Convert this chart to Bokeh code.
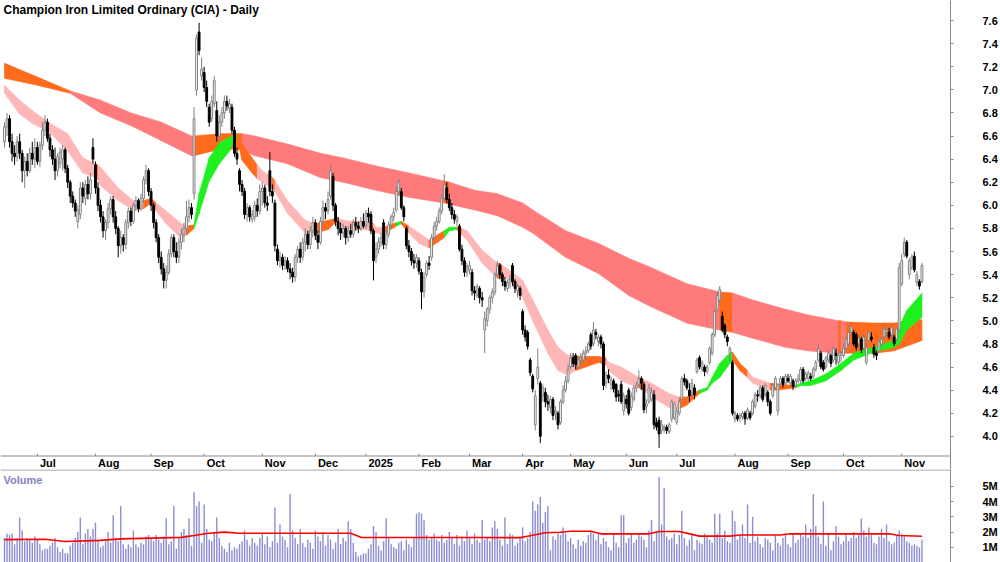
from bokeh.plotting import figure
from bokeh.models import Range1d, FixedTicker, PrintfTickFormatter, Label, ColumnDataSource, Span
from bokeh.core.properties import value
from bokeh.layouts import column
from bokeh.embed import file_html
from bokeh.resources import INLINE

# ---------------- data ----------------
title_text = "Champion Iron Limited Ordinary (CIA) - Daily"
month_idx = [13, 36, 58, 79, 102, 123, 143, 164, 184, 205, 224, 246, 266, 289, 310, 332, 355]
month_lbl = ["Jul", "Aug", "Sep", "Oct", "Nov", "Dec", "2025", "Feb", "Mar", "Apr", "May", "Jun",
             "Jul", "Aug", "Sep", "Oct", "Nov"]
price_ticks = [4.0, 4.2, 4.4, 4.6, 4.8, 5.0, 5.2, 5.4, 5.6, 5.8, 6.0, 6.2, 6.4, 6.6, 6.8, 7.0, 7.2, 7.4, 7.6]
vol_ticks = [1, 2, 3, 4, 5]

opens = [
    6.55,6.68,6.75,6.55,6.45,6.42,6.55,6.45,6.30,6.38,
    6.30,6.45,6.40,6.50,6.38,6.52,6.65,6.72,6.58,6.48,
    6.40,6.30,6.36,6.40,6.48,6.32,6.20,6.08,6.02,5.86,
    5.92,6.15,6.06,6.18,6.10,6.50,6.35,6.15,6.00,5.90,
    5.78,5.85,5.97,6.05,5.90,5.80,5.65,5.72,5.66,5.85,
    5.95,5.86,6.00,6.04,5.97,6.06,6.22,6.30,6.12,6.00,
    5.85,5.72,5.55,5.45,5.35,5.42,5.58,5.72,5.60,5.55,
    5.68,5.75,5.80,5.90,5.98,6.10,7.00,7.50,7.12,7.15,
    7.02,6.85,6.75,6.88,6.82,6.60,6.72,6.80,6.90,6.84,
    6.85,6.65,6.45,6.30,6.18,6.12,5.92,5.98,5.88,5.90,
    6.00,5.95,6.12,6.15,6.02,6.30,6.12,6.02,5.62,5.52,
    5.55,5.48,5.52,5.45,5.42,5.38,5.55,5.62,5.55,5.68,
    5.75,5.66,5.78,5.85,5.74,5.68,5.86,5.98,5.95,6.08,
    6.25,6.00,5.86,5.80,5.76,5.80,5.72,5.78,5.75,5.85,
    5.82,5.80,5.86,5.82,5.93,5.92,5.78,5.55,5.62,5.68,
    5.85,5.66,5.75,5.83,5.90,5.96,6.12,6.12,5.98,5.80,
    5.65,5.60,5.52,5.50,5.52,5.42,5.25,5.40,5.50,5.55,
    5.72,5.82,5.86,5.95,6.06,6.15,6.05,5.98,5.92,5.86,
    5.82,5.62,5.52,5.42,5.44,5.42,5.26,5.22,5.28,5.20,
    4.92,5.00,5.10,5.20,5.25,5.40,5.48,5.40,5.34,5.28,
    5.33,5.48,5.34,5.26,5.28,5.08,4.92,4.90,4.66,4.52,
    4.10,4.50,4.46,4.35,4.38,4.30,4.25,4.32,4.20,4.20,
    4.12,4.30,4.40,4.48,4.60,4.68,4.70,4.60,4.66,4.66,
    4.72,4.74,4.88,4.80,4.90,4.82,4.86,4.80,4.46,4.53,
    4.45,4.48,4.45,4.36,4.45,4.22,4.32,4.40,4.25,4.32,
    4.42,4.45,4.50,4.45,4.26,4.30,4.32,4.36,4.12,4.14,
    4.05,4.06,4.08,4.04,4.15,4.16,4.12,4.20,4.32,4.50,
    4.48,4.40,4.38,4.42,4.56,4.68,4.58,4.60,4.56,4.64,
    4.72,4.88,5.10,5.18,5.04,4.96,4.86,4.72,4.64,4.15,
    4.18,4.16,4.17,4.20,4.16,4.20,4.20,4.26,4.36,4.35,
    4.42,4.36,4.38,4.30,4.35,4.42,4.22,4.46,4.50,4.46,
    4.50,4.46,4.48,4.44,4.48,4.48,4.58,4.50,4.50,4.52,
    4.52,4.58,4.66,4.72,4.64,4.60,4.66,4.70,4.66,4.72,
    4.64,4.70,4.70,4.76,4.80,4.90,4.90,4.88,4.80,4.84,
    4.76,4.64,4.83,4.86,4.77,4.72,4.74,4.80,4.86,4.90,
    4.90,4.88,4.86,4.84,4.92,5.32,5.58,5.68,5.40,5.46,
    5.56,5.33,5.34,5.34]

highs = [
    6.72,6.80,6.78,6.62,6.52,6.60,6.62,6.48,6.42,6.45,
    6.50,6.55,6.58,6.55,6.55,6.72,6.78,6.75,6.62,6.52,
    6.50,6.45,6.50,6.52,6.50,6.35,6.22,6.12,6.05,6.00,
    6.20,6.20,6.22,6.25,6.28,6.58,6.38,6.20,6.05,5.95,
    5.88,6.02,6.08,6.08,5.95,5.82,5.78,5.75,5.88,5.98,
    5.98,6.02,6.08,6.06,6.10,6.25,6.35,6.32,6.15,6.02,
    5.88,5.75,5.60,5.50,5.48,5.62,5.75,5.75,5.68,5.72,
    5.80,5.85,6.04,6.05,6.02,6.85,7.48,7.58,7.28,7.20,
    7.08,6.88,6.95,7.12,6.90,6.78,6.85,6.95,6.95,6.92,
    6.88,6.68,6.50,6.32,6.22,6.15,6.02,6.00,5.96,6.04,
    6.06,6.18,6.20,6.18,6.08,6.46,6.18,6.05,5.66,5.60,
    5.58,5.56,5.55,5.50,5.46,5.58,5.65,5.68,5.72,5.80,
    5.78,5.82,5.90,5.88,5.78,5.90,6.04,6.02,6.12,6.35,
    6.28,6.02,5.90,5.85,5.84,5.82,5.82,5.84,5.88,5.90,
    5.86,5.90,5.93,5.96,5.98,5.95,5.80,5.68,5.72,5.76,
    5.88,5.78,5.86,5.92,5.98,6.16,6.23,6.15,6.00,5.82,
    5.70,5.63,5.58,5.58,5.55,5.45,5.42,5.52,5.56,5.75,
    5.86,5.90,5.98,6.10,6.27,6.20,6.10,6.02,5.96,5.92,
    5.84,5.66,5.55,5.50,5.52,5.45,5.30,5.32,5.30,5.25,
    5.08,5.12,5.22,5.28,5.42,5.52,5.50,5.42,5.38,5.36,
    5.40,5.50,5.36,5.32,5.30,5.10,4.96,4.92,4.68,4.54,
    4.40,4.76,4.48,4.45,4.42,4.36,4.35,4.34,4.26,4.22,
    4.32,4.44,4.52,4.62,4.72,4.72,4.72,4.70,4.72,4.75,
    4.78,4.82,4.90,4.99,4.93,4.88,4.88,4.82,4.56,4.58,
    4.52,4.50,4.46,4.40,4.48,4.38,4.36,4.42,4.38,4.44,
    4.47,4.57,4.52,4.47,4.32,4.45,4.42,4.40,4.16,4.17,
    4.14,4.10,4.10,4.12,4.32,4.30,4.25,4.32,4.52,4.54,
    4.50,4.46,4.50,4.45,4.68,4.70,4.66,4.62,4.62,4.78,
    4.90,5.10,5.25,5.30,5.08,4.98,4.88,4.78,4.66,4.22,
    4.20,4.20,4.22,4.22,4.25,4.22,4.32,4.38,4.40,4.44,
    4.44,4.46,4.40,4.32,4.46,4.52,4.46,4.52,4.52,4.54,
    4.54,4.54,4.50,4.50,4.54,4.60,4.60,4.56,4.57,4.55,
    4.60,4.66,4.80,4.74,4.66,4.70,4.75,4.72,4.78,4.76,
    4.72,4.74,4.80,4.86,4.92,4.99,4.92,4.90,4.88,4.86,
    4.88,4.80,4.92,4.90,4.80,4.74,4.84,4.86,4.96,4.94,
    4.94,4.96,4.88,4.95,5.50,5.58,5.72,5.70,5.54,5.58,
    5.60,5.43,5.36,5.50]

lows = [
    6.50,6.60,6.50,6.38,6.35,6.38,6.40,6.20,6.15,6.25,
    6.28,6.35,6.32,6.35,6.33,6.48,6.60,6.55,6.42,6.35,
    6.22,6.25,6.32,6.30,6.28,6.15,6.02,5.98,5.90,5.80,
    5.88,6.02,6.00,6.05,6.05,6.36,6.10,5.95,5.85,5.72,
    5.70,5.80,5.92,5.85,5.75,5.55,5.58,5.60,5.62,5.80,
    5.82,5.84,5.95,5.94,5.95,6.02,6.18,6.08,5.95,5.80,
    5.68,5.50,5.40,5.28,5.28,5.40,5.55,5.55,5.50,5.50,
    5.62,5.68,5.75,5.85,5.88,6.05,6.95,7.30,7.08,6.98,
    6.85,6.68,6.72,6.85,6.55,6.55,6.68,6.75,6.82,6.80,
    6.62,6.42,6.35,6.12,6.08,5.88,5.86,5.86,5.85,5.86,
    5.90,5.92,6.00,5.98,5.95,6.08,6.02,5.60,5.48,5.46,
    5.44,5.44,5.42,5.36,5.33,5.34,5.50,5.50,5.52,5.60,
    5.62,5.62,5.72,5.70,5.62,5.66,5.84,5.88,5.92,6.05,
    5.95,5.82,5.74,5.70,5.72,5.66,5.68,5.72,5.72,5.78,
    5.76,5.78,5.80,5.80,5.85,5.75,5.35,5.50,5.58,5.64,
    5.62,5.62,5.72,5.80,5.86,5.94,6.08,5.96,5.86,5.62,
    5.55,5.48,5.45,5.46,5.40,5.10,5.20,5.38,5.44,5.52,
    5.70,5.78,5.84,5.92,6.04,6.02,5.95,5.88,5.84,5.82,
    5.60,5.48,5.38,5.38,5.40,5.22,5.18,5.20,5.15,5.12,
    4.72,4.95,5.06,5.15,5.22,5.38,5.36,5.30,5.26,5.25,
    5.28,5.30,5.24,5.20,5.18,4.88,4.82,4.75,4.52,4.38,
    4.05,4.45,3.94,4.30,4.25,4.22,4.20,4.14,4.14,4.06,
    4.10,4.28,4.38,4.46,4.58,4.60,4.58,4.58,4.62,4.64,
    4.66,4.72,4.75,4.78,4.84,4.78,4.76,4.40,4.42,4.46,
    4.40,4.38,4.30,4.30,4.28,4.18,4.24,4.18,4.22,4.30,
    4.38,4.43,4.40,4.20,4.20,4.28,4.30,4.06,4.05,3.90,
    4.02,4.03,4.02,4.02,4.12,4.14,4.10,4.18,4.30,4.44,
    4.40,4.30,4.36,4.32,4.54,4.58,4.56,4.52,4.54,4.62,
    4.70,4.86,5.08,5.15,4.90,4.85,4.78,4.65,4.18,4.12,
    4.13,4.12,4.14,4.10,4.14,4.14,4.18,4.24,4.30,4.33,
    4.30,4.34,4.26,4.18,4.33,4.40,4.18,4.44,4.42,4.44,
    4.46,4.44,4.40,4.42,4.46,4.46,4.46,4.48,4.48,4.48,
    4.50,4.56,4.64,4.58,4.56,4.58,4.64,4.60,4.64,4.62,
    4.62,4.64,4.68,4.74,4.78,4.88,4.78,4.74,4.78,4.72,
    4.74,4.62,4.82,4.82,4.68,4.66,4.72,4.78,4.84,4.86,
    4.84,4.86,4.78,4.82,4.90,5.30,5.55,5.54,5.36,5.44,
    5.42,5.30,5.27,5.32]

closes = [
    6.68,6.75,6.55,6.45,6.42,6.55,6.45,6.30,6.38,6.30,
    6.45,6.40,6.50,6.38,6.52,6.65,6.72,6.58,6.48,6.40,
    6.30,6.42,6.46,6.48,6.32,6.20,6.08,6.02,5.95,5.96,
    6.15,6.08,6.18,6.10,6.22,6.40,6.15,6.00,5.90,5.78,
    5.85,5.97,6.05,5.90,5.80,5.65,5.72,5.66,5.85,5.95,
    5.86,6.00,6.04,5.97,6.06,6.22,6.30,6.12,6.00,5.85,
    5.72,5.55,5.45,5.35,5.42,5.58,5.72,5.60,5.55,5.68,
    5.75,5.80,5.90,5.98,5.92,6.75,7.45,7.34,7.18,7.02,
    6.90,6.72,6.90,7.08,6.60,6.72,6.80,6.90,6.86,6.88,
    6.65,6.45,6.40,6.18,6.12,5.92,5.98,5.90,5.92,6.00,
    5.95,6.12,6.15,6.02,6.00,6.12,6.08,5.65,5.52,5.55,
    5.48,5.52,5.45,5.42,5.38,5.55,5.62,5.55,5.68,5.75,
    5.66,5.78,5.85,5.74,5.68,5.86,5.98,5.95,6.05,6.30,
    6.00,5.86,5.80,5.76,5.80,5.72,5.78,5.75,5.85,5.82,
    5.80,5.86,5.82,5.93,5.90,5.78,5.52,5.62,5.68,5.72,
    5.66,5.75,5.83,5.90,5.94,6.12,6.20,5.98,5.90,5.65,
    5.60,5.52,5.50,5.55,5.43,5.25,5.38,5.50,5.48,5.72,
    5.82,5.86,5.95,6.06,6.18,6.05,5.98,5.92,5.88,5.90,
    5.62,5.52,5.42,5.47,5.48,5.26,5.24,5.30,5.20,5.18,
    5.02,5.10,5.20,5.25,5.40,5.48,5.40,5.34,5.30,5.33,
    5.36,5.34,5.28,5.30,5.22,4.92,4.86,4.78,4.55,4.41,
    4.35,4.60,4.00,4.42,4.30,4.28,4.32,4.18,4.22,4.10,
    4.30,4.40,4.48,4.58,4.68,4.63,4.62,4.66,4.68,4.72,
    4.74,4.80,4.78,4.92,4.88,4.86,4.80,4.44,4.53,4.50,
    4.49,4.41,4.34,4.35,4.30,4.35,4.28,4.20,4.35,4.42,
    4.44,4.50,4.46,4.23,4.28,4.42,4.38,4.10,4.08,4.02,
    4.10,4.08,4.05,4.10,4.30,4.28,4.22,4.30,4.50,4.47,
    4.42,4.35,4.46,4.36,4.66,4.60,4.64,4.56,4.60,4.76,
    4.88,5.08,5.22,5.27,4.92,4.88,4.82,4.76,4.20,4.20,
    4.15,4.18,4.20,4.15,4.23,4.16,4.30,4.36,4.35,4.42,
    4.32,4.44,4.30,4.20,4.44,4.50,4.45,4.50,4.45,4.52,
    4.48,4.52,4.43,4.48,4.50,4.58,4.48,4.54,4.55,4.50,
    4.58,4.64,4.76,4.60,4.58,4.68,4.72,4.63,4.76,4.70,
    4.70,4.72,4.76,4.84,4.90,4.95,4.80,4.77,4.85,4.75,
    4.86,4.77,4.90,4.84,4.71,4.70,4.82,4.84,4.93,4.92,
    4.86,4.94,4.80,4.93,5.46,5.52,5.68,5.56,5.52,5.55,
    5.44,5.40,5.30,5.48]

volume_m = [
    1.6,1.9,1.8,1.9,1.2,1.6,2.95,2.1,1.4,1.6,1.5,1.3,1.7,1.5,1.2,0.8,0.9,0.9,1.1,1.3,
    1.6,1.0,0.7,0.9,0.6,0.6,1.1,1.3,1.6,2.0,2.95,1.2,1.9,2.2,1.7,2.2,2.6,1.5,1.0,1.1,
    1.4,2.0,1.3,3.1,1.6,1.4,3.7,1.2,0.9,1.2,1.0,2.1,1.2,1.0,1.3,1.2,1.7,1.8,1.6,1.4,
    1.8,1.5,1.3,1.7,2.9,1.2,1.4,3.7,0.9,1.6,2.0,2.2,1.8,2.9,1.1,4.6,3.7,4.0,1.3,3.8,
    2.2,1.5,1.4,2.0,2.95,1.6,1.1,0.9,0.7,1.3,0.8,1.0,0.9,1.2,1.4,2.1,1.5,1.1,1.6,1.3,
    1.1,1.6,1.9,1.2,1.7,1.0,1.4,3.6,1.3,2.5,1.7,1.5,1.0,4.5,2.1,1.6,1.2,2.2,1.3,1.0,
    1.5,1.3,0.9,2.1,1.7,1.4,2.0,1.1,1.8,1.5,0.9,1.3,2.2,1.2,1.6,1.4,2.7,2.2,1.3,0.7,
    0.4,0.5,0.6,0.6,0.9,1.2,2.4,2.0,1.1,0.8,1.4,2.9,1.6,1.2,1.0,0.9,1.3,1.4,0.8,1.5,
    1.2,1.0,1.6,3.2,3.3,3.2,2.8,1.8,1.5,1.6,1.9,1.5,1.4,1.8,1.3,1.5,2.0,1.6,1.2,1.8,
    1.1,1.7,1.4,2.1,1.6,1.2,1.9,1.5,1.3,2.8,1.5,1.6,1.4,2.3,2.7,2.2,1.5,1.1,2.95,1.2,
    1.9,1.8,1.1,1.3,1.6,2.3,1.4,1.6,2.0,4.0,3.4,3.8,4.3,2.6,3.3,3.7,0.8,1.7,1.5,1.9,
    1.8,2.3,1.9,1.4,1.6,1.2,0.9,1.5,1.1,1.4,1.3,1.8,2.1,1.9,1.5,1.9,1.2,1.6,1.4,1.0,
    0.8,1.9,1.3,1.0,3.1,3.1,1.3,1.6,1.9,1.3,1.5,1.9,1.7,1.5,1.0,2.1,2.8,1.4,2.0,5.6,
    2.5,4.9,1.7,1.5,1.6,1.9,1.2,1.8,3.4,1.6,1.1,1.5,1.9,0.8,1.5,1.3,1.2,1.9,1.7,1.5,
    1.3,3.2,1.9,3.2,1.6,2.1,1.4,1.3,3.4,2.7,1.5,1.8,2.5,1.6,3.8,1.3,3.0,1.4,1.7,1.2,
    1.0,1.6,1.5,1.3,0.8,1.8,1.3,1.1,1.6,1.9,1.2,1.0,1.9,1.3,1.5,1.9,1.7,2.5,1.6,2.2,
    4.5,2.4,1.7,1.2,4.0,1.1,1.9,0.8,1.4,2.4,1.7,1.2,1.4,1.9,1.4,1.6,2.0,1.6,1.8,2.9,
    2.1,1.7,2.3,1.8,1.3,1.2,1.7,2.2,1.6,2.5,1.4,1.2,1.3,1.8,2.1,1.9,1.7,1.4,1.3,1.1,
    1.2,1.1,1.0,1.5]

vma_idx = [0, 16, 24, 38, 46, 58, 70, 75, 80, 87, 93, 137, 141, 145, 184, 204, 208, 214, 220, 224,
           232, 236, 255, 259, 267, 275, 287, 291, 307, 311, 350, 354, 363]
vma_val = [1.50, 1.52, 1.38, 1.45, 1.55, 1.60, 1.65, 1.77, 1.90, 1.99, 1.92, 1.92, 1.65, 1.64, 1.64,
           1.63, 1.75, 1.95, 1.98, 2.05, 2.05, 1.88, 1.88, 2.03, 2.03, 1.73, 1.73, 1.80, 1.80, 1.88,
           1.88, 1.77, 1.72]

# long-term ribbon (outer edges); colour code per segment starting at that point
long_idx = [0, 13, 26, 38, 50, 62, 74, 75, 86, 94, 99, 112, 125, 134, 147, 160, 174, 176, 186, 195,
            205, 209, 222, 235, 247, 256, 270, 283, 288, 296, 309, 318, 330, 331, 333, 344, 352, 363]
long_top = [7.23, 7.11, 6.99, 6.91, 6.80, 6.72, 6.60, 6.60, 6.62, 6.62, 6.60, 6.53, 6.45, 6.41, 6.34,
            6.28, 6.21, 6.20, 6.13, 6.10, 6.02, 5.96, 5.78, 5.67, 5.54, 5.46, 5.32, 5.25, 5.24, 5.18,
            5.10, 5.05, 5.00, 5.00, 4.99, 4.98, 4.98, 5.01]
long_bot = [7.10, 7.04, 6.97, 6.80, 6.69, 6.56, 6.43, 6.43, 6.49, 6.48, 6.43, 6.36, 6.24, 6.20, 6.13,
            6.07, 6.02, 6.01, 5.96, 5.91, 5.81, 5.76, 5.55, 5.41, 5.22, 5.12, 4.98, 4.92, 4.90, 4.85,
            4.77, 4.74, 4.72, 4.72, 4.72, 4.72, 4.74, 4.83]
long_col = list("OORRRRROOR" "RRRRRRORRR" "RRRRRRRORR" "RROROOOO")

# short-term ribbon
short_idx = [0, 6, 11, 18, 25, 31, 36, 37, 38, 45, 51, 55, 58, 60, 64, 70, 72, 75, 77, 81,
             85, 89, 91, 92, 94, 98, 100, 102, 106, 107, 112, 119, 123, 128, 132, 134, 138, 139, 142, 145,
             146, 147, 150, 155, 157, 160, 164, 168, 174, 176, 179, 181, 183, 189, 195, 197, 199, 205, 209, 215,
             219, 223, 226, 230, 235, 238, 239, 244, 251, 253, 256, 263, 267, 270, 275, 278, 280, 283, 286, 288,
             291, 294, 296, 303, 306, 313, 315, 319, 325, 331, 336, 344, 352, 354, 357, 363]
short_top = [7.04, 6.91, 6.82, 6.71, 6.62, 6.41, 6.36, 6.35, 6.33, 6.15,
             6.04, 6.04, 6.06, 6.02, 5.95, 5.84, 5.82, 5.83, 6.10, 6.41,
             6.54, 6.59, 6.61, 6.60, 6.53, 6.41, 6.35, 6.30, 6.24, 6.21,
             6.04, 5.87, 5.84, 5.87, 5.89, 5.87, 5.86, 5.86, 5.86, 5.85,
             5.84, 5.81, 5.81, 5.85, 5.86, 5.82, 5.76, 5.70, 5.78, 5.81,
             5.81, 5.80, 5.78, 5.61, 5.50, 5.48, 5.45, 5.35, 5.18, 4.92,
             4.77, 4.70, 4.69, 4.69, 4.69, 4.68, 4.64, 4.60, 4.51, 4.49,
             4.46, 4.37, 4.34, 4.34, 4.40, 4.42, 4.51, 4.63, 4.70, 4.73,
             4.63, 4.57, 4.51, 4.46, 4.45, 4.44, 4.46, 4.48, 4.54, 4.63,
             4.72, 4.77, 4.83, 4.95, 5.09, 5.24]
short_bot = [6.97, 6.79, 6.71, 6.63, 6.47, 6.28, 6.24, 6.22, 6.17, 6.04,
             5.96, 5.97, 6.02, 5.95, 5.84, 5.71, 5.74, 5.80, 5.93, 6.21,
             6.36, 6.47, 6.56, 6.58, 6.39, 6.28, 6.23, 6.20, 6.15, 6.12,
             5.93, 5.76, 5.76, 5.79, 5.87, 5.80, 5.79, 5.79, 5.79, 5.78,
             5.77, 5.76, 5.75, 5.82, 5.84, 5.76, 5.67, 5.63, 5.72, 5.78,
             5.79, 5.74, 5.70, 5.50, 5.37, 5.37, 5.37, 5.20, 5.00, 4.72,
             4.57, 4.53, 4.57, 4.60, 4.64, 4.62, 4.57, 4.48, 4.42, 4.40,
             4.34, 4.25, 4.24, 4.27, 4.37, 4.40, 4.46, 4.51, 4.60, 4.66,
             4.57, 4.51, 4.46, 4.40, 4.40, 4.42, 4.44, 4.44, 4.48, 4.57,
             4.66, 4.73, 4.77, 4.80, 4.92, 5.03]
short_col = list("RRRRRRORRR" "ROORRROGGG" "GGGOOORROR" "RROORRORRO" "RROGORROGG"
                 "ORRRORRRRR" "RROOORRROR" "RROOGGGGGO" "ORROOGGGGG" "GGGGGG")

# ---------------- styling ----------------
FONT = "Liberation Sans"
AXIS_GREY = "#8a8a8a"
LONG_COL = {"R": "#ff7b7b", "O": "#ff6a1c", "G": "#1ef01e"}
SHORT_COL = {"R": "#ffb6b6", "O": "#ff6a1c", "G": "#1ef01e"}
UP_LINE = "#808080"
DOWN_COL = "#000000"
VOL_COL = "#8c8cd4"

n = min(len(opens), len(highs), len(lows), len(closes), len(volume_m))
idx = list(range(n))

X0 = -1.58
X1 = 374.3
PX = 115.5           # pixels per price unit
H1 = 469             # price panel (frame includes the date strip)
H2 = 562 - H1


def price_at(y):
    return 7.6 - (y - 20) / PX


def ribbon(ix, top, bot, col, cmap):
    xs, ys, cs = [], [], []
    for k in range(len(ix) - 1):
        xs.append([ix[k], ix[k + 1], ix[k + 1], ix[k]])
        ys.append([top[k], top[k + 1], bot[k + 1], bot[k]])
        cs.append(cmap[col[k]])
    return xs, ys, cs


def style_yaxis(ax):
    ax.axis_line_color = AXIS_GREY
    ax.major_tick_line_color = AXIS_GREY
    ax.minor_tick_line_color = None
    ax.major_tick_in = 0
    ax.major_tick_out = 3
    ax.major_label_standoff = 29
    ax.major_label_text_font = FONT
    ax.major_label_text_font_style = "bold"
    ax.major_label_text_font_size = "11px"
    ax.major_label_text_color = "#000000"


# ---------------- price panel ----------------
p = figure(width=1000, height=H1, x_range=Range1d(X0, X1),
           y_range=Range1d(price_at(H1), price_at(0)),
           output_backend="svg", toolbar_location=None, y_axis_location="right",
           min_border_left=0, min_border_right=49, min_border_top=0, min_border_bottom=0)
p.xaxis.visible = False
p.outline_line_color = None
p.grid.visible = False
p.background_fill_color = "white"
p.border_fill_color = "white"

lx, ly, lc = ribbon(long_idx, long_top, long_bot, long_col, LONG_COL)
p.patches(lx, ly, fill_color=lc, line_color=lc, line_width=0.7)
sx, sy, sc = ribbon(short_idx, short_top, short_bot, short_col, SHORT_COL)
p.patches(sx, sy, fill_color=sc, line_color=sc, line_width=0.7)

up = [i for i in idx if closes[i] >= opens[i]]
dn = [i for i in idx if closes[i] < opens[i]]
src_up = ColumnDataSource(dict(x=up, h=[highs[i] for i in up], l=[lows[i] for i in up],
                               t=[closes[i] for i in up], b=[opens[i] for i in up]))
src_dn = ColumnDataSource(dict(x=dn, h=[highs[i] for i in dn], l=[lows[i] for i in dn],
                               t=[opens[i] for i in dn], b=[closes[i] for i in dn]))
p.segment(x0="x", y0="l", x1="x", y1="h", source=src_up, line_color=UP_LINE, line_width=1)
p.segment(x0="x", y0="l", x1="x", y1="h", source=src_dn, line_color=DOWN_COL, line_width=1)
p.vbar(x="x", top="t", bottom="b", width=0.72, source=src_up,
       fill_color="white", line_color=UP_LINE, line_width=1)
p.vbar(x="x", top="t", bottom="b", width=0.72, source=src_dn,
       fill_color=DOWN_COL, line_color=DOWN_COL, line_width=1)

p.yaxis.ticker = FixedTicker(ticks=price_ticks, minor_ticks=[])
p.yaxis.formatter = PrintfTickFormatter(format="%.1f")
style_yaxis(p.yaxis[0])

# date strip: axis line, small ticks and month labels
p.add_layout(Span(location=price_at(455.5), dimension="width", line_color=AXIS_GREY, line_width=1))
p.segment(x0=month_idx, y0=[price_at(455.5)] * len(month_idx),
          x1=month_idx, y1=[price_at(453)] * len(month_idx), line_color=AXIS_GREY, line_width=1)
p.text(x=[m + 1.0 for m in month_idx], y=[price_at(462.5)] * len(month_idx), text=month_lbl,
       text_font=value(FONT), text_font_style="bold", text_font_size="11px",
       text_align="left", text_baseline="middle", text_color="#000000")

p.add_layout(Label(x=-0.4, y=price_at(9), text=title_text,
                   text_font=FONT, text_font_style="bold", text_font_size="12px",
                   text_baseline="middle", text_color="#000000"))

# ---------------- volume panel ----------------
VPX = 15.25
p2 = figure(width=1000, height=H2, x_range=p.x_range, y_range=Range1d(0, H2 / VPX),
            output_backend="svg", toolbar_location=None, y_axis_location="right",
            min_border_left=0, min_border_right=49, min_border_top=0, min_border_bottom=0)
p2.outline_line_color = None
p2.grid.visible = False
p2.xaxis.visible = False
p2.background_fill_color = "white"
p2.border_fill_color = "white"

p2.vbar(x=idx, top=volume_m[:n], width=0.55, fill_color=VOL_COL, line_color=None)
p2.line(vma_idx, vma_val, line_color="#ff0000", line_width=1.6)
p2.add_layout(Span(location=H2 / VPX - 0.03, dimension="width", line_color=AXIS_GREY, line_width=1))

p2.yaxis.ticker = FixedTicker(ticks=vol_ticks, minor_ticks=[])
p2.yaxis.major_label_overrides = {v: "%dM" % v for v in vol_ticks}
style_yaxis(p2.yaxis[0])

p2.add_layout(Label(x=-0.4, y=H2 / VPX - 10 / VPX, text="Volume", text_font=FONT,
                    text_font_style="bold", text_font_size="11px", text_baseline="middle",
                    text_color="#8484c4"))

layout = column(p, p2, spacing=0)
open("out.html", "w").write(file_html(layout, INLINE))
